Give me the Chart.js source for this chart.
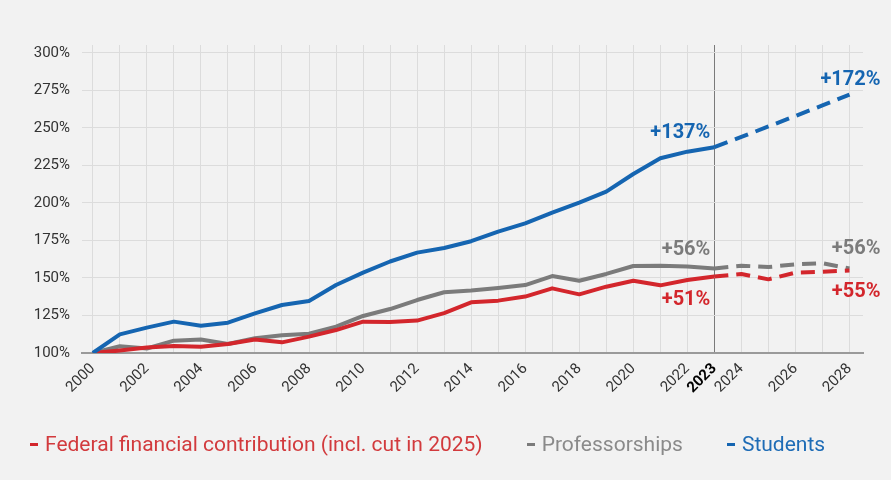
<!DOCTYPE html>
<html>
<head>
<meta charset="utf-8">
<script src="https://cdn.jsdelivr.net/npm/chart.js@4.4.1/dist/chart.umd.min.js"></script>
<style>
  html, body { margin: 0; padding: 0; background: #f2f2f2; }
  #wrap { position: relative; width: 891px; height: 480px; }
  #legend { position: absolute; left: 30px; top: 432px; display: flex; font: 21px Roboto, sans-serif; }
  #legend .item { display: flex; align-items: center; margin-right: 44px; }
  #legend .mark { width: 8px; height: 3px; margin-right: 7px; }
</style>
</head>
<body>
<div id="wrap">
  <canvas id="chart" width="891" height="480"></canvas>
  <div id="legend"></div>
</div>
<script>
const years = [2000, 2001, 2002, 2003, 2004, 2005, 2006, 2007, 2008, 2009, 2010, 2011, 2012, 2013, 2014,
  2015, 2016, 2017, 2018, 2019, 2020, 2021, 2022, 2023, 2024, 2025, 2026, 2027, 2028];

// index values, 2000 = 100 %
const federal = [100, 101.6, 103.6, 104.7, 104.2, 106, 109, 107.1, 110.9, 115.3, 120.9, 120.7, 121.6, 126.6, 133.8,
  134.9, 137.6, 143.1, 139.1, 144.2, 148.2, 145.1, 148.7, 151, 152.7, 149.1, 153.6, 154.2, 155];
const professorships = [100, 104.5, 103, 108.2, 109, 106, 109.8, 111.8, 112.9, 117.6, 124.7, 129.3, 135.3, 140.5, 141.6,
  143.3, 145.3, 151.3, 148.2, 152.7, 158, 158.2, 157.6, 156.4, 158.2, 157.3, 159.1, 159.8, 156.4];
const students = [100, 112.4, 116.9, 120.9, 118.2, 120.2, 126.4, 132, 134.7, 145.3, 153.6, 161, 166.9, 170, 174.5,
  180.9, 186.4, 193.6, 200.2, 207.6, 219.3, 229.8, 234.2, 237.2, 244, 251, 258, 265, 272.2];

const yTicks = [100, 125, 150, 175, 200, 225, 250, 275, 300];
const lastActualYear = 2023;

const seriesNames = ["Federal financial contribution (incl. cut in 2025)", "Professorships", "Students"];
const seriesValues = [federal, professorships, students];
const lineColors = ["#d3262c", "#7b7b7b", "#1565b1"];
const legendColors = ["#d23a3d", "#8a8a8a", "#1e6cb6"];
const drawOrder = [1, 2, 0];

// labels next to the line ends (series index, year, offset)
const callouts = [
  { series: 2, year: 2023, dx: -4, dy: -9 },
  { series: 2, year: 2028, dx: 31, dy: -10 },
  { series: 1, year: 2023, dx: -4, dy: -13 },
  { series: 1, year: 2028, dx: 31, dy: -14 },
  { series: 0, year: 2023, dx: -4, dy: 29 },
  { series: 0, year: 2028, dx: 31, dy: 27 }
];

Chart.defaults.font.family = "Roboto, sans-serif";

const isLastActual = c => !!(c && c.tick && c.tick.value === lastActualYear);

const calloutPlugin = {
  id: "callouts",
  afterDatasetsDraw(chart) {
    const { ctx, scales } = chart;
    ctx.save();
    ctx.font = "bold 20px Roboto, sans-serif";
    ctx.textAlign = "right";
    ctx.textBaseline = "alphabetic";
    callouts.forEach(c => {
      const v = seriesValues[c.series][years.indexOf(c.year)];
      const px = scales.x.getPixelForValue(c.year);
      const py = scales.y.getPixelForValue(v);
      ctx.fillStyle = lineColors[c.series];
      ctx.fillText("+" + Math.round(v - 100) + "%", px + c.dx, py + c.dy);
    });
    ctx.restore();
  }
};

const datasets = seriesValues.map((vals, i) => ({
  label: seriesNames[i],
  data: years.map((yr, j) => ({ x: yr, y: vals[j] })),
  borderColor: lineColors[i],
  borderWidth: 4,
  borderJoinStyle: "round",
  pointRadius: 0,
  tension: 0,
  order: drawOrder[i],
  segment: {
    borderDash: ctx => ctx.p0.parsed.x >= lastActualYear ? [14, 8] : undefined
  }
}));

new Chart(document.getElementById("chart"), {
  type: "line",
  data: { datasets },
  options: {
    responsive: false,
    animation: false,
    layout: { padding: { top: 45, right: 28, left: 0, bottom: 0 } },
    plugins: { legend: { display: false }, tooltip: { enabled: false } },
    scales: {
      x: {
        type: "linear",
        min: 1999.6,
        max: 2028.5,
        afterBuildTicks: s => { s.ticks = years.map(v => ({ value: v })); },
        afterFit: s => { s.height = 127; },
        grid: {
          drawTicks: false,
          color: c => isLastActual(c) ? "#7a7a7a" : "#dcdcdc"
        },
        border: { color: "#9a9a9a", width: 2 },
        ticks: {
          autoSkip: false,
          minRotation: 45,
          maxRotation: 45,
          padding: 7,
          color: c => isLastActual(c) ? "#000" : "#333",
          font: c => isLastActual(c) ? { size: 15, weight: "bold" } : { size: 15 },
          callback: v => (v % 2 === 0 || v === lastActualYear) ? String(v) : ""
        }
      },
      y: {
        min: 100,
        max: 305.3,
        afterBuildTicks: s => { s.ticks = yTicks.map(v => ({ value: v })); },
        afterFit: s => { s.width = 82; },
        grid: { drawTicks: false, color: "#dcdcdc" },
        border: { display: false },
        ticks: {
          padding: 12,
          color: "#333",
          font: { size: 15 },
          callback: v => v + "%"
        }
      }
    }
  },
  plugins: [calloutPlugin]
});

// legend below the chart
const legend = document.getElementById("legend");
seriesNames.forEach((name, i) => {
  const item = document.createElement("div");
  item.className = "item";
  item.innerHTML = `<span class="mark" style="background:${lineColors[i]}"></span><span style="color:${legendColors[i]}">${name}</span>`;
  legend.appendChild(item);
});
</script>
</body>
</html>
